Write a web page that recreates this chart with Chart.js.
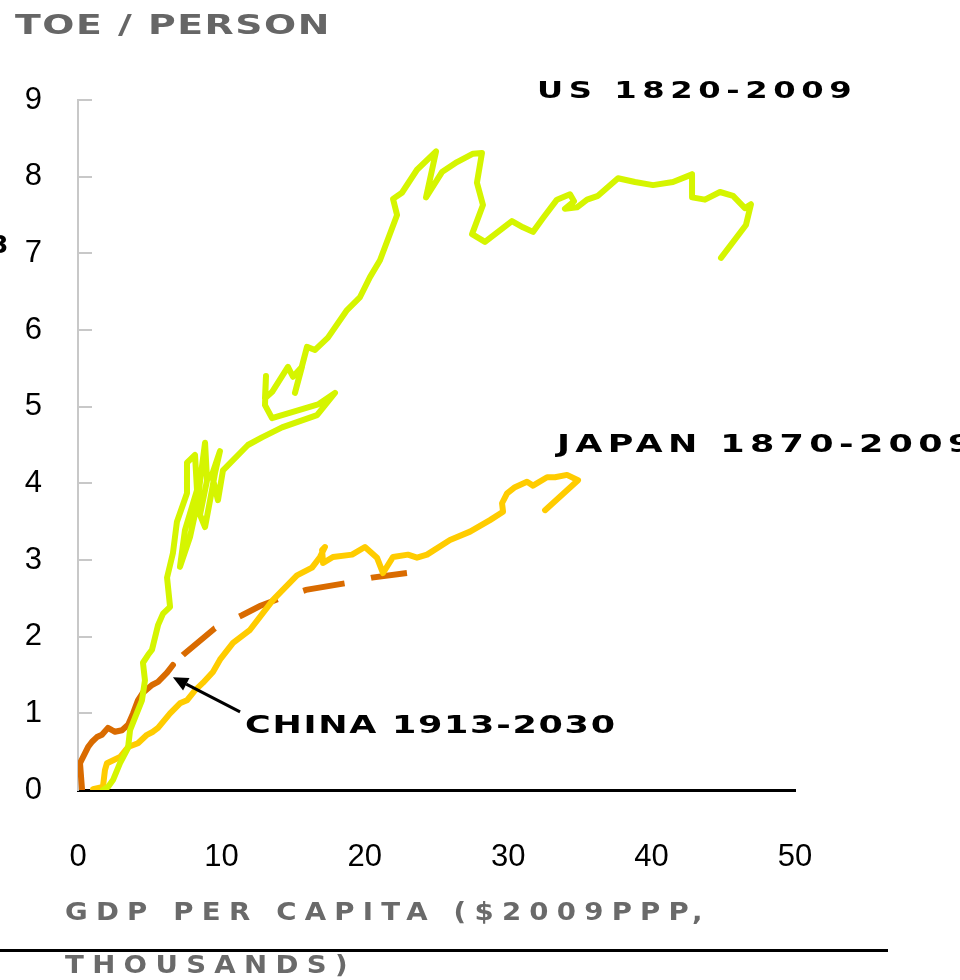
<!DOCTYPE html>
<html><head><meta charset="utf-8">
<script src="https://cdn.jsdelivr.net/npm/chart.js@4"></script>
<style>
html,body{margin:0;padding:0;background:#fff;overflow:hidden;width:960px;height:980px;}
#wrap{position:relative;width:960px;height:980px;overflow:hidden;background:#fff;}
canvas{position:absolute;left:0;top:0;}
.lbl{position:absolute;white-space:nowrap;font-family:"DejaVu Sans",sans-serif;font-weight:bold;line-height:1;transform-origin:0 0;}
#rule{position:absolute;left:0;top:949px;width:888px;height:3px;background:#000;}
</style></head>
<body><div id="wrap">
<canvas id="c" width="960" height="980"></canvas>
<div id="rule"></div>
<div class="lbl" data-w="315" data-sx="1.4" style="left:15px;top:11px;color:#666;font-size:27px">TOE / PERSON</div>
<div class="lbl" data-w="315" data-sx="1.4" style="left:537px;top:79px;color:#000;font-size:23px">US 1820-2009</div>
<div class="lbl" data-w="415" data-sx="1.4" style="left:557px;top:431px;color:#000;font-size:25px">JAPAN 1870-2009</div>
<div class="lbl" data-w="370" data-sx="1.4" style="left:245px;top:712px;color:#000;font-size:25px">CHINA 1913-2030</div>
<div class="lbl" data-w="637" data-sx="1.15" style="left:65px;top:900px;color:#6a6a6a;font-size:24px">GDP PER CAPITA ($2009PPP,</div>
<div class="lbl" data-w="282" data-sx="1.15" style="left:65px;top:953px;color:#6a6a6a;font-size:24px">THOUSANDS)</div>
<div class="lbl" style="left:-9px;top:232px;color:#000;font-size:25px">3</div>
</div>
<script>
// ---- data (GDP per capita, $2009 PPP thousands ; TOE per person) ----
const xTicks = [0, 10, 20, 30, 40, 50];
const yTicks = [0, 1, 2, 3, 4, 5, 6, 7, 8, 9];

const usGdp = [1.74,2.09,2.44,2.93,3.49,3.63,3.97,4.46,4.67,4.53,4.88,5.16,5.58,5.93,6.42,6.21,6.62,6.90,7.60,7.60,8.16,8.30,7.46,7.11,7.81,8.30,8.86,9.00,8.51,8.86,9.34,9.55,9.90,9.34,9.76,10.11,11.85,12.83,14.23,16.67,17.92,16.74,13.53,13.04,13.11,13.04,13.53,14.64,14.99,15.62,15.13,15.97,16.53,17.43,18.76,19.67,20.36,21.06,22.25,21.97,22.59,23.64,24.97,24.27,25.38,26.43,27.55,28.17,27.82,28.24,27.48,28.38,30.26,31.03,31.73,32.43,33.40,34.31,34.59,33.96,34.80,35.50,36.26,37.66,38.84,40.10,41.49,42.82,42.82,43.72,44.77,45.68,46.51,46.93,46.58,44.84];
const usToe = [0.00,0.04,0.13,0.35,0.55,0.78,0.94,1.17,1.43,1.66,1.76,1.83,2.15,2.30,2.39,2.77,3.09,3.50,3.87,4.27,4.37,3.91,3.39,2.91,3.30,3.72,4.53,4.04,3.59,3.43,3.91,4.13,4.42,4.11,3.78,4.17,4.50,4.60,4.73,4.89,5.18,5.03,4.85,5.02,5.40,5.11,5.19,5.52,5.39,5.52,5.18,5.78,5.74,5.90,6.26,6.43,6.69,6.91,7.50,7.71,7.79,8.09,8.33,7.73,8.06,8.19,8.30,8.31,7.92,7.63,7.25,7.15,7.42,7.34,7.28,7.46,7.70,7.77,7.68,7.58,7.60,7.70,7.75,7.98,7.93,7.89,7.93,8.03,7.73,7.70,7.80,7.75,7.59,7.64,7.37,6.94];

const japanGdp = [1.05,1.74,1.88,2.02,2.93,3.49,4.18,4.81,5.23,5.58,6.42,7.11,7.60,8.16,8.72,9.41,9.90,10.81,12.00,13.60,15.27,16.32,16.88,17.22,17.02,17.09,17.78,19.11,20.01,20.85,21.27,21.97,23.01,23.64,24.34,25.94,27.34,28.73,29.64,29.57,29.92,30.47,31.31,31.73,32.71,33.26,34.10,34.87,32.57];
const japanToe = [0.01,0.04,0.26,0.35,0.43,0.56,0.61,0.72,0.76,0.81,1.00,1.13,1.17,1.30,1.40,1.54,1.70,1.92,2.09,2.48,2.80,2.90,3.04,3.17,3.13,2.96,3.04,3.07,3.17,3.03,2.83,3.04,3.07,3.03,3.07,3.26,3.37,3.52,3.63,3.74,3.87,3.95,4.02,3.97,4.08,4.08,4.11,4.04,3.65];

const chinaGdp = [0.28,0.14,0.49,0.70,0.98,1.32,1.67,2.09,2.37,2.58,3.07,3.49,3.84,4.18,4.53,5.16,5.58,6.21,6.62];
const chinaToe = [0.01,0.35,0.48,0.56,0.63,0.69,0.72,0.81,0.78,0.76,0.78,0.85,1.00,1.17,1.27,1.37,1.41,1.53,1.63];

const chinaProjGdp = [6.62,7.32,9.55,11.44,12.69,14.09,15.90,18.76,20.50,22.94];
const chinaProjToe = [1.63,1.76,2.11,2.28,2.40,2.50,2.61,2.70,2.77,2.83];

// annotation arrow (data units): from label to China curve
const arrowFrom = [11.3, 1.02];
const arrowTo = [6.62, 1.47];

// ---- build ----
function pts(xs, ys) { return xs.map((x, i) => ({x: x, y: ys[i]})); }

// fit label width: horizontal stretch + letter-spacing
document.querySelectorAll('.lbl[data-w]').forEach(el => {
  const target = +el.dataset.w;
  const sx = +el.dataset.sx;
  const n = el.textContent.length;
  const w0 = el.offsetWidth;
  el.style.letterSpacing = ((target / sx - w0) / (n - 1)).toFixed(2) + 'px';
  el.style.transform = 'scaleX(' + sx + ')';
});

const yTickMarks = {
  id: 'yTickMarks',
  afterDraw(chart) {
    const {ctx, scales: {y}, chartArea} = chart;
    ctx.save();
    ctx.strokeStyle = '#c8c8c8';
    ctx.lineWidth = 2;
    yTicks.forEach(v => {
      if (v === 0) return;
      const py = Math.round(y.getPixelForValue(v));
      ctx.beginPath();
      ctx.moveTo(chartArea.left, py);
      ctx.lineTo(chartArea.left + 14, py);
      ctx.stroke();
    });
    ctx.restore();
  }
};

const arrowPlugin = {
  id: 'arrowPlugin',
  afterDatasetsDraw(chart) {
    const {ctx, scales: {x, y}} = chart;
    const x1 = x.getPixelForValue(arrowFrom[0]), y1 = y.getPixelForValue(arrowFrom[1]);
    const x2 = x.getPixelForValue(arrowTo[0]), y2 = y.getPixelForValue(arrowTo[1]);
    const ang = Math.atan2(y2 - y1, x2 - x1);
    const hl = 15, hw = 7;
    const bx = x2 - hl * Math.cos(ang), by = y2 - hl * Math.sin(ang);
    ctx.save();
    ctx.strokeStyle = '#000';
    ctx.fillStyle = '#000';
    ctx.lineWidth = 3;
    ctx.beginPath();
    ctx.moveTo(x1, y1);
    ctx.lineTo(bx, by);
    ctx.stroke();
    ctx.beginPath();
    ctx.moveTo(x2, y2);
    ctx.lineTo(bx + hw * Math.sin(ang), by - hw * Math.cos(ang));
    ctx.lineTo(bx - hw * Math.sin(ang), by + hw * Math.cos(ang));
    ctx.closePath();
    ctx.fill();
    ctx.restore();
  }
};

const solid = {showLine: true, pointRadius: 0, pointHoverRadius: 0, borderWidth: 6, fill: false, tension: 0,
               borderCapStyle: 'round', borderJoinStyle: 'round'};

new Chart(document.getElementById('c'), {
  type: 'scatter',
  data: {
    datasets: [
      Object.assign({label: 'US 1820-2009', data: pts(usGdp, usToe), borderColor: '#D5F500'}, solid),
      Object.assign({label: 'Japan 1870-2009', data: pts(japanGdp, japanToe), borderColor: '#FFCC00'}, solid),
      Object.assign({label: 'China 1913-2010', data: pts(chinaGdp, chinaToe), borderColor: '#D96B00'}, solid),
      Object.assign({}, solid, {label: 'China projection', data: pts(chinaProjGdp, chinaProjToe), borderColor: '#D96B00',
        borderDash: [42, 27], borderDashOffset: 55, borderCapStyle: 'butt', borderJoinStyle: 'miter'})
    ]
  },
  options: {
    responsive: false,
    animation: false,
    devicePixelRatio: 1,
    layout: {padding: {left: 0, top: 100, right: 165, bottom: 0}},
    plugins: {legend: {display: false}, tooltip: {enabled: false}},
    scales: {
      x: {
        type: 'linear', min: 0, max: 50,
        afterBuildTicks: s => { s.ticks = xTicks.map(v => ({value: v})); },
        afterFit: s => { s.height = 190; },
        grid: {display: true, drawOnChartArea: false, drawTicks: false},
        border: {display: true, color: '#000', width: 3},
        ticks: {padding: 49, maxRotation: 0, color: '#000', font: {family: '"Liberation Sans", Arial, sans-serif', size: 31}}
      },
      y: {
        type: 'linear', min: 0, max: 9,
        afterBuildTicks: s => { s.ticks = yTicks.map(v => ({value: v})); },
        afterFit: s => { s.width = 78; },
        grid: {display: true, drawOnChartArea: false, drawTicks: false},
        border: {display: true, color: '#c8c8c8', width: 2},
        ticks: {padding: 36, color: '#000', font: {family: '"Liberation Sans", Arial, sans-serif', size: 31}}
      }
    }
  },
  plugins: [yTickMarks, arrowPlugin]
});
</script>
</body></html>
